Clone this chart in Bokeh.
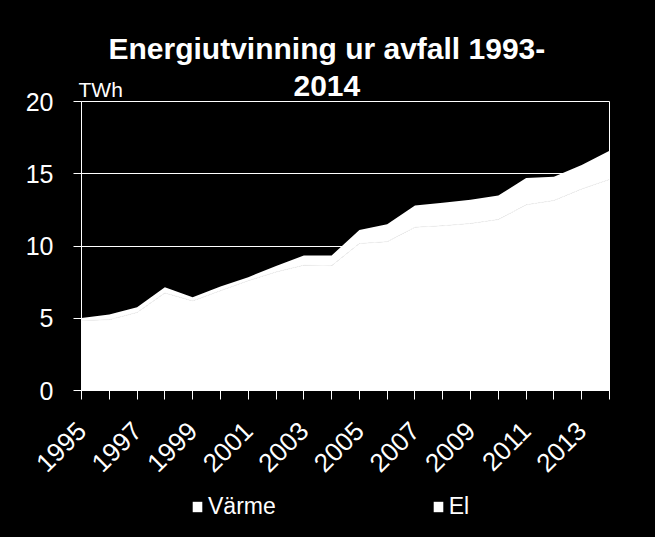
import math
from bokeh.plotting import figure
from bokeh.layouts import column
from bokeh.models import (Range1d, FixedTicker, Legend, LegendItem, Label,
                          ColumnDataSource, Title)
from bokeh.embed import file_html
from bokeh.resources import INLINE

# ---- data ----
years = list(range(1995, 2015))
varme = [4.84, 4.90, 5.40, 6.75, 6.20, 6.90, 7.60, 8.20, 8.67, 8.64,
         10.17, 10.30, 11.30, 11.40, 11.56, 11.83, 12.85, 13.15, 13.95, 14.60]
el = [0.18, 0.36, 0.36, 0.40, 0.26, 0.29, 0.24, 0.42, 0.67, 0.70,
      0.93, 1.20, 1.50, 1.60, 1.64, 1.67, 1.85, 1.65, 1.65, 2.00]
label_years = [1995, 1997, 1999, 2001, 2003, 2005, 2007, 2009, 2011, 2013]
other_years = [1996, 1998, 2000, 2002, 2004, 2006, 2008, 2010, 2012, 2014]
y_ticks = [0, 5, 10, 15, 20]
series_names = ["Värme", "El"]
title_lines = ["Energiutvinning ur avfall 1993-", "2014"]
unit_label = "TWh"

total = [v + e for v, e in zip(varme, el)]
src = ColumnDataSource(dict(year=years, zero=[0] * len(years), varme=varme, total=total))

FONT = "Liberation Sans"
W = 655
LEG_H = 44
H = 537 - LEG_H
L, R, T = 81, 46, 101
FH = 289
B = H - T - FH
FW = W - L - R

p = figure(width=W, height=H, frame_width=FW, frame_height=FH,
           output_backend="svg", toolbar_location=None,
           x_range=Range1d(years[0], years[-1]), y_range=Range1d(0, 20),
           min_border_left=L, min_border_right=R, min_border_top=T, min_border_bottom=B,
           background_fill_color="black", border_fill_color="black",
           outline_line_color="white", outline_line_width=1)

r_varme = p.varea(x="year", y1="zero", y2="varme", source=src, fill_color="white")
r_el = p.varea(x="year", y1="varme", y2="total", source=src, fill_color="white")
p.line(x="year", y="varme", source=src, line_color="#f5f5f5", line_width=1)

# axes
xa = p.xaxis[0]
xa.ticker = FixedTicker(ticks=label_years, minor_ticks=other_years)
xa.major_label_orientation = math.pi / 4
xa.major_label_text_font = FONT
xa.major_label_text_font_size = "26px"
xa.major_label_text_color = "white"
xa.major_tick_out = 9
xa.major_tick_in = 0
xa.minor_tick_out = 9
xa.minor_tick_in = 0
xa.major_tick_line_color = "white"
xa.minor_tick_line_color = "white"
xa.axis_line_color = "white"
xa.major_label_standoff = 27

ya = p.yaxis[0]
ya.ticker = FixedTicker(ticks=y_ticks)
ya.major_label_text_font = FONT
ya.major_label_text_font_size = "25px"
ya.major_label_text_color = "white"
ya.major_tick_out = 8
ya.major_tick_in = 0
ya.minor_tick_line_color = None
ya.major_tick_line_color = "white"
ya.axis_line_color = "white"
ya.major_label_standoff = 20

p.xgrid.grid_line_color = None
p.ygrid.ticker = FixedTicker(ticks=y_ticks)
p.ygrid.grid_line_color = "white"
p.ygrid.grid_line_width = 1

# titles (closest to plot first)
p.add_layout(Title(text=title_lines[1], align="left", offset=212, standoff=12,
                   text_font=FONT, text_font_style="bold", text_font_size="30px",
                   text_color="white"), "above")
p.add_layout(Title(text=title_lines[0], align="left", offset=27, standoff=5,
                   text_font=FONT, text_font_style="bold", text_font_size="30px",
                   text_color="white"), "above")

def dx(px):
    return years[0] + (px - L) / FW * (years[-1] - years[0])
def dy(py):
    return (T + FH - py) / FH * 20

p.add_layout(Label(x=dx(78), y=dy(89), text=unit_label, text_align="left",
                   text_baseline="alphabetic", text_font=FONT,
                   text_font_size="21px", text_color="white"), "right")

# legend row (its swatches stand for the two white areas above)
pl = figure(width=W, height=LEG_H, frame_width=W, frame_height=LEG_H,
            output_backend="svg", toolbar_location=None,
            x_axis_type=None, y_axis_type=None,
            min_border_left=0, min_border_right=0, min_border_top=0, min_border_bottom=0,
            x_range=Range1d(0, 1), y_range=Range1d(0, 1),
            background_fill_color="black", border_fill_color="black")
pl.outline_line_color = None
swatch = ColumnDataSource(dict(x=[0, 0], y1=[0, 0], y2=[0, 0]))
lv = pl.varea(x="x", y1="y1", y2="y2", source=swatch, fill_color="white")
le = pl.varea(x="x", y1="y1", y2="y2", source=swatch, fill_color="white")
legend = Legend(items=[LegendItem(label=series_names[0], renderers=[lv]),
                       LegendItem(label=series_names[1], renderers=[le])],
                orientation="horizontal", location=(191, 17),
                glyph_width=12, glyph_height=13, label_standoff=5, spacing=156,
                padding=0, margin=0, border_line_color=None,
                background_fill_alpha=0, label_text_color="white",
                label_text_font=FONT, label_text_font_size="23px")
pl.add_layout(legend, "center")

layout = column(p, pl, spacing=0, styles={"background-color": "black"})
html = file_html(layout, INLINE)
html = html.replace("<body>", '<body style="margin:0;background-color:#000000;">', 1)
open("out.html", "w").write(html)
